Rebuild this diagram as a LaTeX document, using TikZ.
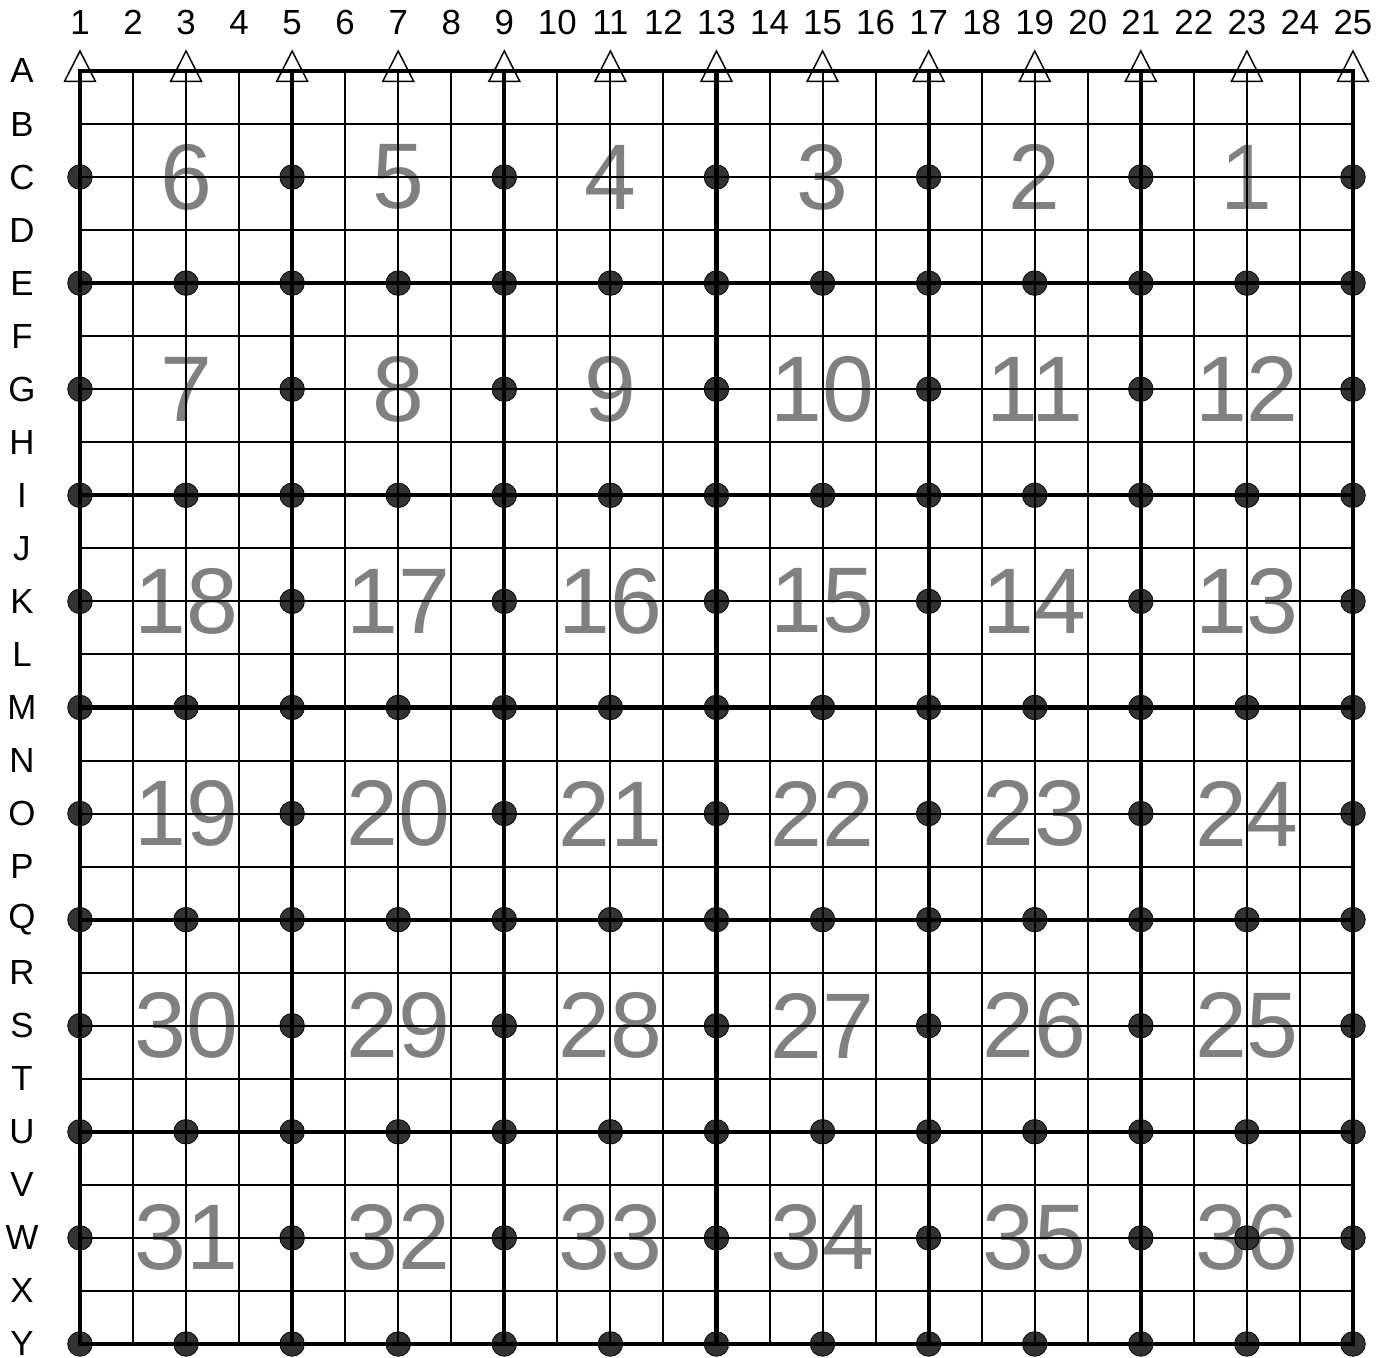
\documentclass[tikz,border=0pt]{standalone}
\usepackage{fontspec}
\setmainfont{Liberation Sans}
\tikzset{thingrid/.style={line width=1.07pt},
  thickgrid/.style={line width=2.2pt},
  pin/.style={fill=black!80,draw=black,line width=0.4pt},
  support/.style={draw,line width=0.8pt,line join=miter},
  blocknum/.style={text=gray,inner sep=0pt,font=\fontsize{50}{60}\selectfont},
  lbl/.style={inner sep=0pt,font=\fontsize{18.7}{22}\selectfont}}

\begin{document}
\begin{tikzpicture}
\useasboundingbox (-1.508,1.338) rectangle (24.736,-24.256);
% block numbers
\foreach \nums [count=\i from 0] in {{6,5,4,3,2,1},{7,8,9,10,11,12},{18,17,16,15,14,13},
    {19,20,21,22,23,24},{30,29,28,27,26,25},{31,32,33,34,35,36}}
  \foreach \n [count=\j from 0] in \nums
    \node[blocknum] (b\n) at (2+4*\j,-2-4*\i) {\n};
% pins
\foreach \r in {4,8,...,24}
  \foreach \c in {0,2,...,24}
    \draw[pin] (\c,-\r) circle (0.232);
\foreach \r in {2,6,...,22}
  \foreach \c in {0,4,...,24}
    \draw[pin] (\c,-\r) circle (0.232);
\draw[pin] (22,-22) circle (0.232);
% grid
\foreach \k in {1,...,23} {
  \draw[thingrid] (\k,0) -- (\k,-24);
  \draw[thingrid] (0,-\k) -- (24,-\k);
}
\foreach \k in {4,8,...,20} {
  \draw[thickgrid] (\k,0) -- (\k,-24);
  \draw[thickgrid] (0,-\k) -- (24,-\k);
}
\draw[thickgrid] (0,0) rectangle (24,-24);
% supports on row A
\foreach \c in {0,2,...,24}
  \draw[support] (\c,0.377) -- (\c+0.292,-0.198) -- (\c-0.292,-0.198) -- cycle;
% labels
\foreach \c in {1,...,25}
  \node[lbl] (col\c) at (\c-1,0.914) {\c};
\foreach \l [count=\r from 0] in {A,...,Y}
  \node[lbl] (row\l) at (-1.094,-\r) {\l};
\end{tikzpicture}
\end{document}
